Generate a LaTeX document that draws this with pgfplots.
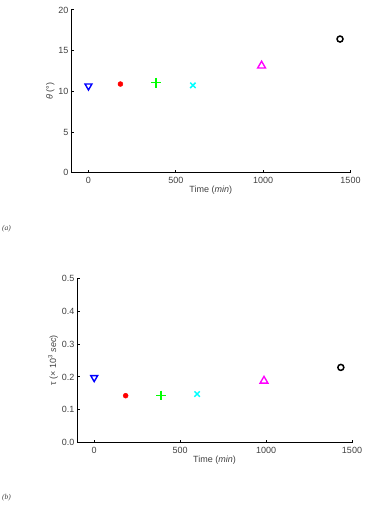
\documentclass[border=0pt]{standalone}
\usepackage{fontspec}
\setmainfont{Liberation Sans}
\newfontfamily\serifit{Liberation Serif}
\usepackage{pgfplots}
\pgfplotsset{compat=1.18}
\definecolor{mblue}{rgb}{0,0,1}
\definecolor{mred}{rgb}{1,0,0}
\definecolor{mgreen}{rgb}{0,1,0}
\definecolor{mcyan}{rgb}{0,1,1}
\definecolor{mmag}{rgb}{1,0,1}
\pgfplotsset{
  mstyle/.style={
    scale only axis,
    axis x line*=bottom, axis y line*=left,
    axis line style={line width=1pt,-},
    tick style={line width=1pt,black},
    major tick length=3pt,
    tick align=inside,
    xmin=-100, xmax=1500,
    xtick={0,500,1000,1500},
    xticklabels={0,500,1000,1500},
    /pgf/number format/assume math mode=true,
    tick label style={font=\fontsize{9}{10}\selectfont, color=black!75},
    label style={font=\fontsize{9}{10}\selectfont, color=black!75},
    xticklabel style={yshift=-1pt},
    yticklabel style={xshift=1pt},
    xlabel={Time (\textit{min})},
    xlabel style={yshift=4pt},
    ylabel style={yshift=-3pt},
    clip=false,
  }
}
\begin{document}
\begin{tikzpicture}
\path[use as bounding box] (0pt,0pt) rectangle (368pt,-505pt);
\begin{axis}[mstyle,
  at={(71pt,-172.7pt)}, anchor=south west,
  width=279.5pt, height=162.7pt,
  ymin=0, ymax=20, ytick={0,5,10,15,20},
  ylabel={\itshape θ\upshape{} (°)},
]
\addplot[only marks, mark=triangle, mark options={rotate=180, draw=mblue, line width=1.4pt}, mark size=4pt] coordinates {(0,10.66)};
\addplot[only marks, mark=*, mark options={fill=mred, draw=mred}, mark size=2.5pt] coordinates {(183,10.9)};
\addplot[only marks, mark=+, mark options={draw=mgreen, line width=1.5pt}, mark size=4.8pt] coordinates {(386,11.06)};
\addplot[only marks, mark=x, mark options={draw=mcyan, line width=1.5pt}, mark size=3.8pt] coordinates {(598,10.74)};
\addplot[only marks, mark=triangle, mark options={draw=mmag, line width=1.4pt}, mark size=4.5pt] coordinates {(991,13.15)};
\addplot[only marks, mark=o, mark options={draw=black, line width=1.5pt}, mark size=3pt] coordinates {(1440,16.43)};
\end{axis}
\begin{axis}[mstyle,
  at={(77pt,-442.7pt)}, anchor=south west,
  width=275pt, height=164.4pt,
  ymin=0, ymax=0.5, ytick={0,0.1,0.2,0.3,0.4,0.5},
  yticklabel style={/pgf/number format/fixed, /pgf/number format/precision=1, /pgf/number format/fixed zerofill},
  ylabel={τ (× 10\textsuperscript{3} \textit{sec})},
]
\addplot[only marks, mark=triangle, mark options={rotate=180, draw=mblue, line width=1.4pt}, mark size=4pt] coordinates {(0,0.198)};
\addplot[only marks, mark=*, mark options={fill=mred, draw=mred}, mark size=2.5pt] coordinates {(183,0.143)};
\addplot[only marks, mark=+, mark options={draw=mgreen, line width=1.5pt}, mark size=4.8pt] coordinates {(389,0.144)};
\addplot[only marks, mark=x, mark options={draw=mcyan, line width=1.5pt}, mark size=3.8pt] coordinates {(599,0.148)};
\addplot[only marks, mark=triangle, mark options={draw=mmag, line width=1.4pt}, mark size=4.5pt] coordinates {(988,0.188)};
\addplot[only marks, mark=o, mark options={draw=black, line width=1.5pt}, mark size=3pt] coordinates {(1435,0.229)};
\end{axis}
\node[anchor=west, inner sep=0pt, font=\serifit\itshape\fontsize{7.5}{9}\selectfont, text=black!75] at (2pt,-229pt) {(a)};
\node[anchor=west, inner sep=0pt, font=\serifit\itshape\fontsize{7.5}{9}\selectfont, text=black!75] at (2pt,-498pt) {(b)};
\end{tikzpicture}
\end{document}
